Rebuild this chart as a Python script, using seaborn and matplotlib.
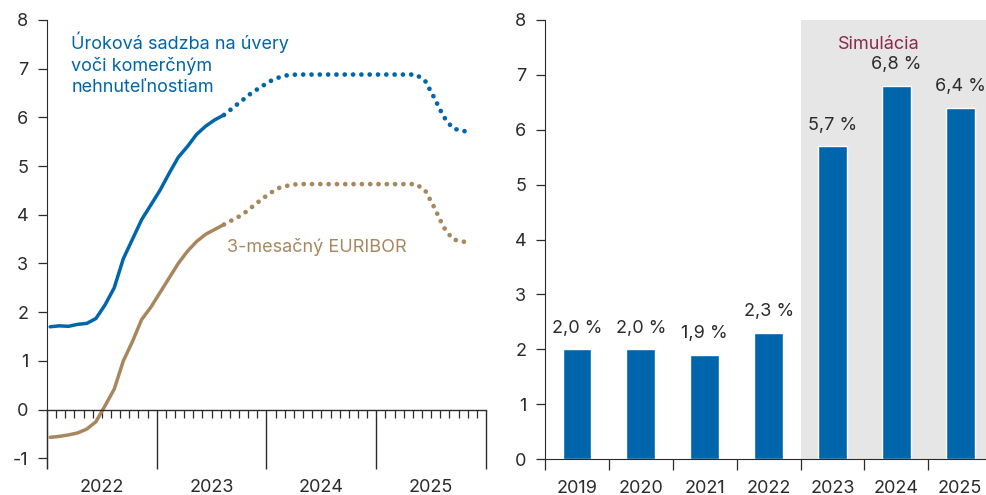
import numpy as np
import pandas as pd
import matplotlib.pyplot as plt
import seaborn as sns

# Left panel: monthly values, Jan 2022 - Nov 2025 (first 20 months actual, rest simulated)
cre_rate = [1.70, 1.72, 1.71, 1.75, 1.77, 1.87, 2.15, 2.50, 3.10, 3.50,
            3.90, 4.20, 4.50, 4.85, 5.18, 5.40, 5.65, 5.82, 5.95, 6.05,
            6.20, 6.35, 6.50, 6.62, 6.74, 6.82, 6.87, 6.88, 6.88, 6.88,
            6.88, 6.88, 6.88, 6.88, 6.88, 6.88, 6.88, 6.88, 6.88, 6.88,
            6.88, 6.75, 6.40, 6.02, 5.78, 5.72, 5.71]
euribor = [-0.57, -0.55, -0.52, -0.48, -0.40, -0.25, 0.08, 0.42, 1.00, 1.40,
           1.85, 2.10, 2.40, 2.70, 3.00, 3.25, 3.45, 3.60, 3.70, 3.80,
           3.90, 4.00, 4.15, 4.30, 4.44, 4.55, 4.60, 4.63, 4.63, 4.63,
           4.63, 4.63, 4.63, 4.63, 4.63, 4.63, 4.63, 4.63, 4.63, 4.63,
           4.63, 4.50, 4.15, 3.75, 3.50, 3.45, 3.44]
n_actual = 20
year_labels_left = [2022, 2023, 2024, 2025]

# Right panel: yearly growth
years = ['2019', '2020', '2021', '2022', '2023', '2024', '2025']
growth = [2.0, 2.0, 1.9, 2.3, 5.7, 6.8, 6.4]
sim_start = 4  # first simulated year index

BLUE = '#0066ab'
BROWN = '#a8875e'
MAROON = '#8b2a4a'
DARK = '#2b2b2b'
FS = 13

sns.set_style('ticks')
plt.rcParams['font.family'] = ['Inter', 'DejaVu Sans']
plt.rcParams['font.size'] = FS
plt.rcParams['axes.unicode_minus'] = False
plt.rcParams['text.color'] = DARK
plt.rcParams['xtick.color'] = DARK
plt.rcParams['ytick.color'] = DARK
plt.rcParams['axes.edgecolor'] = DARK

months = np.arange(len(cre_rate))
df = pd.DataFrame({'t': 2022 + (months + 0.35) / 12, 'cre': cre_rate, 'eur': euribor})
act = df.iloc[:n_actual]
sim = df.iloc[n_actual - 1:]

fig = plt.figure(figsize=(9.87, 4.95), dpi=100)
ax1 = fig.add_axes([0.0476, 0.0545, 0.4448, 0.9051])
ax2 = fig.add_axes([0.5522, 0.0727, 0.4478, 0.8869])

# ---- left panel
dots = (0, (0.01, 1.75))
sns.lineplot(data=act, x='t', y='cre', ax=ax1, color=BLUE, lw=2.5)
sns.lineplot(data=sim, x='t', y='cre', ax=ax1, color=BLUE, lw=3.4,
             linestyle=dots, dash_capstyle='round')
sns.lineplot(data=act, x='t', y='eur', ax=ax1, color=BROWN, lw=2.5)
sns.lineplot(data=sim, x='t', y='eur', ax=ax1, color=BROWN, lw=3.4,
             linestyle=dots, dash_capstyle='round')

ax1.set_xlim(2022, 2026)
ax1.set_ylim(-1.2, 8)
ax1.set_yticks(range(-1, 9))
ax1.set_xlabel('')
ax1.set_ylabel('')
ax1.spines['top'].set_visible(False)
ax1.spines['right'].set_visible(False)
ax1.spines['bottom'].set_position(('data', 0))
ax1.spines['bottom'].set_linewidth(1.0)
ax1.set_xticks([2022, 2023, 2024, 2025, 2026])
ax1.set_xticklabels([])
ax1.set_xticks([2022 + m / 12 for m in range(48) if m % 12], minor=True)
ax1.tick_params(axis='x', which='major', length=42.5, width=1.0)
ax1.tick_params(axis='x', which='minor', length=6, width=0.9)
ax1.tick_params(axis='y', length=6.5, width=0.9, pad=7, labelsize=FS)
for y in year_labels_left:
    ax1.text(y + 0.5, -1.61, str(y), ha='center', va='center', clip_on=False)

ax1.text(2022.22, 7.76, 'Úroková sadzba na úvery\nvoči komerčným\nnehnuteľnostiam',
         color=BLUE, ha='left', va='top', linespacing=1.3)
ax1.text(2023.64, 3.33, '3-mesačný EURIBOR', color=BROWN, ha='left', va='center')

# ---- right panel
ax2.axvspan(sim_start - 0.5, len(years), color='#e6e6e6', lw=0, zorder=0)
sns.barplot(x=years, y=growth, ax=ax2, color=BLUE, width=0.45, saturation=1, zorder=2)
labels = [f'{v:.1f} %'.replace('.', ',') for v in growth]
ax2.bar_label(ax2.containers[0], labels=labels, padding=9, fontsize=FS, color=DARK)
ax2.text(4.72, 7.56, 'Simulácia', color=MAROON, ha='center', va='center')

ax2.set_xlim(-0.5, 6.42)
ax2.set_ylim(0, 8)
ax2.set_yticks(range(0, 9))
ax2.spines['top'].set_visible(False)
ax2.spines['right'].set_visible(False)
ax2.set_xticks(np.arange(-0.5, 6, 1), minor=True)
ax2.tick_params(axis='x', which='major', length=0, pad=15, labelsize=FS)
ax2.tick_params(axis='x', which='minor', length=8, width=0.9)
ax2.tick_params(axis='y', length=6.5, width=0.9, pad=7, labelsize=FS)

fig.savefig('out.png', dpi=100)
